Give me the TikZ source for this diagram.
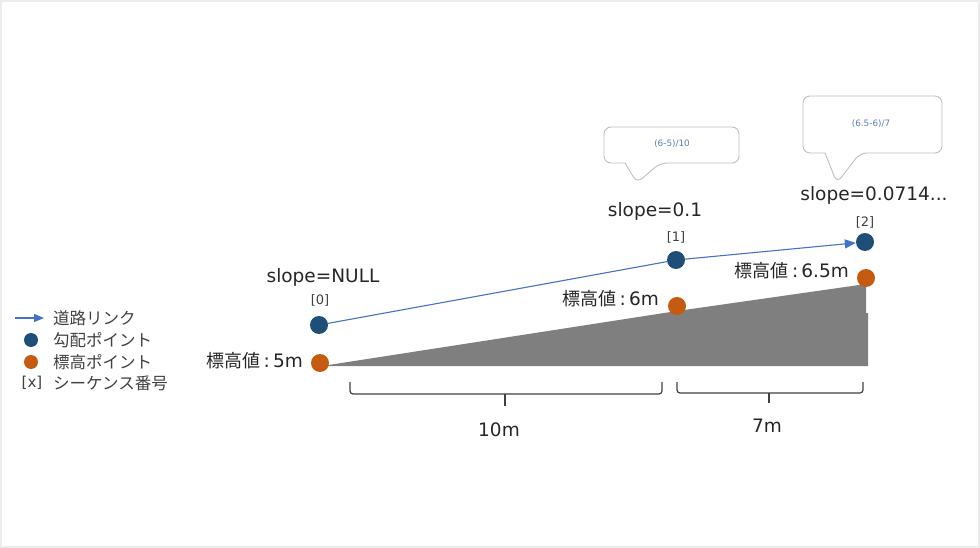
\documentclass[tikz,border=0pt]{standalone}
\usepackage{fontspec}
\setmainfont{DejaVu Sans}
\newfontfamily\jp{Noto Sans CJK JP}
\usetikzlibrary{arrows.meta}
\definecolor{gradblue}{HTML}{1F4E79}
\definecolor{elevorange}{HTML}{C55A11}
\definecolor{linkblue}{HTML}{4472C4}
\definecolor{slopegray}{HTML}{7F7F7F}
\definecolor{txtdark}{HTML}{262626}
\definecolor{callgray}{HTML}{BFBFBF}
\definecolor{calltxt}{HTML}{5B7DB1}
\definecolor{bracegray}{HTML}{404040}
\newcommand{\jpbig}[1]{{\jp\fontsize{18}{21}\selectfont #1}}
\tikzset{
  x=1pt, y=-1pt,
  bdot/.style={circle, fill=gradblue, inner sep=0pt, minimum size=18pt},
  odot/.style={circle, fill=elevorange, inner sep=0pt, minimum size=18pt},
  lbdot/.style={circle, fill=gradblue, inner sep=0pt, minimum size=14pt},
  lodot/.style={circle, fill=elevorange, inner sep=0pt, minimum size=14pt},
  bigtxt/.style={text=txtdark, font=\fontsize{18.5}{22}\selectfont, inner sep=0pt},
  seqtxt/.style={text=bracegray, font=\fontsize{13}{15}\selectfont, inner sep=0pt},
  legtxt/.style={text=bracegray, font=\jp\fontsize{16.5}{19}\selectfont, inner sep=0pt, anchor=west},
  calltext/.style={text=calltxt, font=\fontsize{8.8}{10}\selectfont, inner sep=0pt},
  callout/.style={draw=callgray, line width=0.9pt, fill=white, rounded corners=7pt},
  linkarrow/.style={draw=linkblue, line width=1.1pt, -{Triangle[length=11pt,width=9pt]}},
  bracket/.style={draw=bracegray, line width=1.2pt, rounded corners=3pt},
}
\begin{document}
\begin{tikzpicture}
\useasboundingbox (0,0) rectangle (980,548);
\draw[draw=black!7, line width=2pt] (1,1) rectangle (979,547);

% slope polygon
\fill[slopegray] (322,366) -- (677,311) -- (866,284) -- (866,313) -- (868,313) -- (868,366) -- cycle;

% elevation points
\node[odot] (o0) at (320,363) {};
\node[odot] (o1) at (677,306) {};
\node[odot] (o2) at (866,278) {};

% gradient points
\node[bdot] (b0) at (319,325) {};
\node[bdot] (b1) at (676,260) {};
\node[bdot] (b2) at (865,242) {};

% road link
\draw[linkblue, line width=1.1pt] (b0) -- (b1);
\draw[linkarrow] (b1) -- (b2);

% sequence numbers
\node[seqtxt] (s0) at (320,300) {[0]};
\node[seqtxt] (s1) at (676,237) {[1]};
\node[seqtxt] (s2) at (865,222) {[2]};

% slope labels
\node[bigtxt] (l0) at (323,277) {slope=NULL};
\node[bigtxt] (l1) at (655,211) {slope=0.1};
\node[bigtxt] (l2) at (874,195) {slope=0.0714...};

% elevation labels
\node[bigtxt, anchor=east] (e0) at (303,361) {\jpbig{標高値}\,:\,5m};
\node[bigtxt, anchor=east] (e1) at (659,299) {\jpbig{標高値}\,:\,6m};
\node[bigtxt, anchor=east] (e2) at (849,271) {\jpbig{標高値}\,:\,6.5m};

% callouts
\draw[callout] (604,127) -- (739,127) -- (739,163) -- (660,163) -- (637,183) [sharp corners] -- (625,163) [rounded corners=7pt] -- (604,163) -- cycle;
\node[calltext] (c1) at (672,144) {(6-5)/10};
\draw[callout] (803,96) -- (942,96) -- (942,153) -- (860,153) -- (837,183) [sharp corners] -- (825,153) [rounded corners=7pt] -- (803,153) -- cycle;
\node[calltext] (c2) at (871,124) {(6.5-6)/7};

% distance brackets
\draw[bracket] (350,382) -- (350,394) -- (662,394) -- (662,382);
\draw[bracegray, line width=1.2pt] (505,394) -- (505,406);
\node[bigtxt] (d1) at (499,430) {10m};
\draw[bracket] (677,382) -- (677,393) -- (863,393) -- (863,382);
\draw[bracegray, line width=1.2pt] (769,393) -- (769,403);
\node[bigtxt] (d2) at (767,426) {7m};

% legend
\coordinate (la) at (15,318);
\coordinate (lb) at (44,318);
\draw[draw=linkblue, line width=1.1pt, -{Triangle[length=10pt,width=8pt]}] (la) -- (lb);
\node[legtxt] (t1) at (53,318) {道路リンク};
\node[lbdot] (ld1) at (31,340) {};
\node[legtxt] (t2) at (53,340) {勾配ポイント};
\node[lodot] (ld2) at (31,362) {};
\node[legtxt] (t3) at (53,362) {標高ポイント};
\node[legtxt, font=\fontsize{15}{18}\selectfont, anchor=center] (tx) at (32,383) {[x]};
\node[legtxt] (t4) at (53,383) {シーケンス番号};
\end{tikzpicture}
\end{document}
